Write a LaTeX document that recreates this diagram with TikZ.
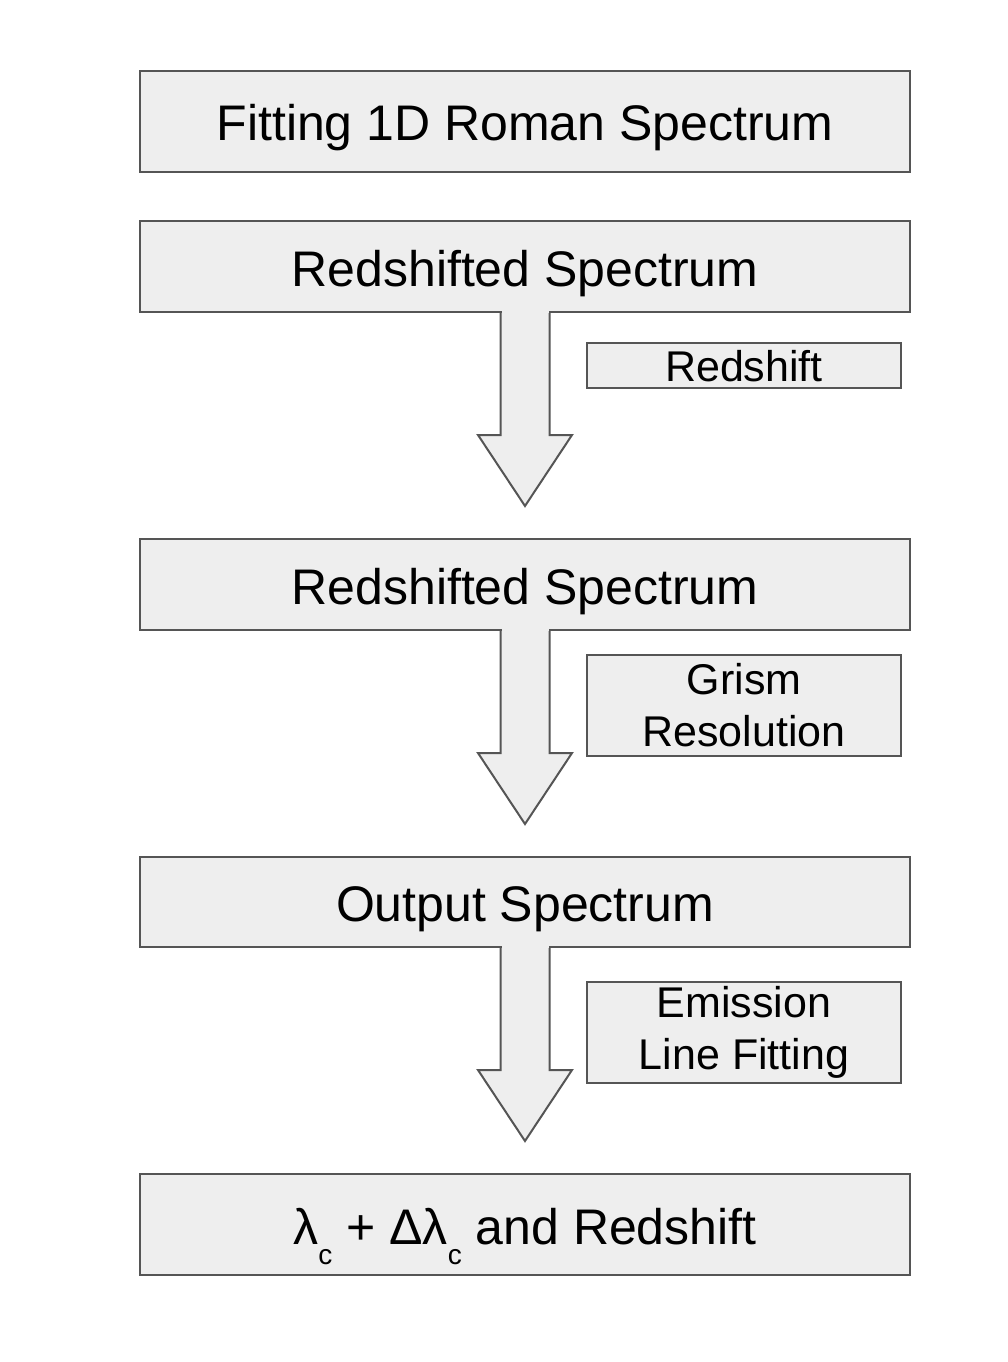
\documentclass[tikz,border=0pt]{standalone}
\usepackage{fontspec}
\setmainfont{Liberation Sans}
\usetikzlibrary{calc}
\definecolor{boxfill}{HTML}{EEEEEE}
\definecolor{boxline}{HTML}{555555}
\newcommand\flowarrow[2]{%
  \fill[boxfill] ($(#1.south)+(-23.5,-1.6)$) rectangle ($(#1.south)+(23.5,1.6)$);
  \draw[flow] ($(#1.south)+(-24.5,0)$) -- ($(#2.north)+(-24.5,-103)$)
    -- ($(#2.north)+(-47,-103)$) -- ($(#2.north)+(0,-32)$)
    -- ($(#2.north)+(47,-103)$) -- ($(#2.north)+(24.5,-103)$)
    -- ($(#1.south)+(24.5,0)$);}
\newcommand\lowc{\raisebox{-20pt}{\fontsize{28}{28}\selectfont c}}
\begin{document}
\begin{tikzpicture}[x=1pt,y=-1pt,
  bigbox/.style={draw=boxline,fill=boxfill,line width=2pt,minimum width=770pt,inner sep=0pt,text height=39pt,text depth=0pt,font=\fontsize{50}{60}\selectfont},
  smallbox/.style={draw=boxline,fill=boxfill,line width=2pt,minimum width=314pt,inner sep=0pt,align=center,font=\fontsize{43}{52}\selectfont},
  flow/.style={draw=boxline,fill=boxfill,line width=2pt,line join=miter}]
\useasboundingbox (0,0) rectangle (1008,1362);
\node[bigbox,minimum height=101pt] (b1) at (525,121.5) {Fitting 1D Roman Spectrum};
\node[bigbox,minimum height=91pt] (b2) at (525,266.5) {Redshifted Spectrum};
\node[bigbox,minimum height=91pt] (b3) at (525,584.5) {Redshifted Spectrum};
\node[bigbox,minimum height=90pt] (b4) at (525,902) {Output Spectrum};
\node[bigbox,minimum height=101pt] (b5) at (525,1224.5) {λ\lowc{} + Δλ\lowc{} and Redshift};
\flowarrow{b2}{b3}
\flowarrow{b3}{b4}
\flowarrow{b4}{b5}
\node[smallbox,minimum height=45pt,text height=31pt,text depth=0pt] (s1) at (744,365.5) {Redshift};
\node[smallbox,minimum height=101pt] (s2) at (744,705.5) {Grism\\Resolution};
\node[smallbox,minimum height=101pt] (s3) at (744,1032.5) {Emission\\Line Fitting};
\end{tikzpicture}
\end{document}
